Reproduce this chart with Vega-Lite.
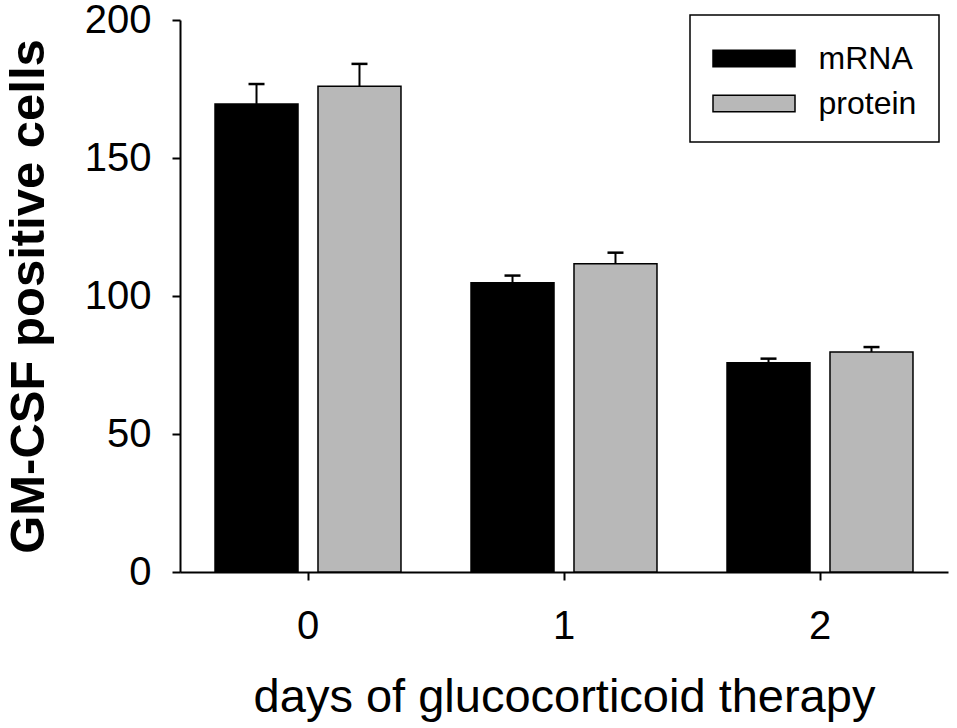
{
  "$schema": "https://vega.github.io/schema/vega-lite/v6.json",
  "width": 768,
  "height": 552,
  "autosize": {"type": "none"},
  "padding": {"left": 180, "top": 20, "right": 9, "bottom": 156},
  "background": "white",
  "data": {
    "values": [
      {"day": "0", "type": "mRNA", "mean": 169.6, "upper": 176.8},
      {"day": "0", "type": "protein", "mean": 176.0, "upper": 184.1},
      {"day": "1", "type": "mRNA", "mean": 104.8, "upper": 107.4},
      {"day": "1", "type": "protein", "mean": 111.7, "upper": 115.7},
      {"day": "2", "type": "mRNA", "mean": 75.8, "upper": 77.3},
      {"day": "2", "type": "protein", "mean": 79.7, "upper": 81.5}
    ]
  },
  "encoding": {
    "x": {
      "field": "day",
      "type": "nominal",
      "scale": {"paddingInner": 0, "paddingOuter": 0},
      "axis": {
        "title": "days of glucocorticoid therapy",
        "labelAngle": 0,
        "labelFontSize": 40,
        "labelPadding": 26,
        "titleFontSize": 47,
        "titleFontWeight": "normal",
        "titleBaseline": "top",
        "titleY": 102
      }
    },
    "xOffset": {
      "field": "type",
      "type": "nominal",
      "scale": {"paddingInner": 0.194, "paddingOuter": 0.34}
    }
  },
  "layer": [
    {
      "mark": {"type": "bar", "stroke": "black", "strokeWidth": 1.5},
      "encoding": {
        "y": {
          "field": "mean",
          "type": "quantitative",
          "title": "GM-CSF positive cells",
          "scale": {"domain": [0, 200], "nice": false},
          "axis": {
            "values": [0, 50, 100, 150, 200],
            "labelFontSize": 40,
            "labelPadding": 21,
            "labelFlush": false,
            "labelOverlap": false,
            "titleFontSize": 49,
            "titleFontWeight": "bold",
            "titleBaseline": "bottom",
            "titleX": -127
          }
        },
        "color": {
          "field": "type",
          "type": "nominal",
          "scale": {"domain": ["mRNA", "protein"], "range": ["#000000", "#b8b8b8"]},
          "legend": {
            "title": null,
            "orient": "none",
            "legendX": 510,
            "legendY": -5,
            "padding": 22,
            "strokeColor": "black",
            "fillColor": "white",
            "symbolType": "M-2,-0.4H2V0.4H-2Z",
            "symbolSize": 1681,
            "symbolOffset": 20.5,
            "symbolStrokeColor": "black",
            "symbolStrokeWidth": 1.5,
            "labelFontSize": 32,
            "labelOffset": 43,
            "rowPadding": 7
          }
        }
      }
    },
    {
      "mark": {"type": "rule", "color": "black", "strokeWidth": 2},
      "encoding": {
        "y": {"field": "mean", "type": "quantitative", "title": "GM-CSF positive cells"},
        "y2": {"field": "upper"}
      }
    },
    {
      "mark": {"type": "tick", "color": "black", "thickness": 2.5, "size": 16, "orient": "horizontal", "opacity": 1},
      "encoding": {
        "y": {"field": "upper", "type": "quantitative", "title": "GM-CSF positive cells"}
      }
    }
  ],
  "config": {
    "font": "Liberation Sans",
    "view": {"stroke": null},
    "axis": {
      "grid": false,
      "domainColor": "black",
      "domainWidth": 2,
      "tickColor": "black",
      "tickWidth": 2,
      "tickSize": 8,
      "labelColor": "black",
      "titleColor": "black",
      "labelFont": "Liberation Sans",
      "titleFont": "Liberation Sans"
    },
    "legend": {
      "strokeWidth": 1.5,
      "labelColor": "black",
      "labelFont": "Liberation Sans"
    }
  }
}
